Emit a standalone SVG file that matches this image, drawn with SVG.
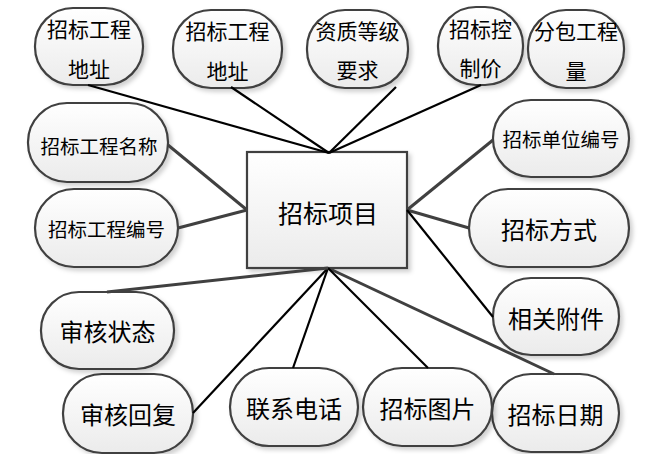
<svg xmlns="http://www.w3.org/2000/svg" width="656" height="454" viewBox="0 0 656 454">
<defs>
<linearGradient id="g" x1="0" y1="0" x2="0" y2="1">
<stop offset="0" stop-color="#ffffff"/>
<stop offset="1" stop-color="#ebebeb"/>
</linearGradient>
<filter id="sh" x="-10%" y="-10%" width="125%" height="130%">
<feDropShadow dx="3" dy="3" stdDeviation="2" flood-color="#000" flood-opacity="0.18"/>
</filter>
</defs>
<style>
.n{fill:url(#g);stroke:#404040;stroke-width:2.2;filter:url(#sh)}
.t{font-family:"Noto Sans CJK SC","Noto Sans CJK JP",sans-serif;fill:#000;text-anchor:middle;dominant-baseline:central}
.s20{font-size:21px}
.s19{font-size:19.5px}
.s23{font-size:24px}
.k{stroke:#000;stroke-width:2.2;fill:none}
.gy{stroke:#404040;stroke-width:3;fill:none}
</style>
<rect width="656" height="454" fill="#fff"/>
<g id="center">
<rect class="n" x="247" y="152" width="160" height="116" rx="0"/>
<text class="t" x="328" y="212" font-size="25">招标项目</text>
</g>
<g id="n1"><rect class="n" x="35" y="8" width="108" height="77" rx="38"/><text class="t s20" x="89" y="28">招标工程</text><text class="t s20" x="89" y="68">地址</text></g>
<g id="n2"><rect class="n" x="173" y="10" width="109" height="78" rx="38"/><text class="t s20" x="227.5" y="30">招标工程</text><text class="t s20" x="227.5" y="70">地址</text></g>
<g id="n3"><rect class="n" x="307" y="10" width="101" height="78" rx="38"/><text class="t s20" x="357.5" y="30">资质等级</text><text class="t s20" x="357.5" y="69">要求</text></g>
<g id="n4"><rect class="n" x="438" y="7" width="85" height="78" rx="38"/><text class="t s20" x="480.5" y="28">招标控</text><text class="t s20" x="480.5" y="67">制价</text></g>
<g id="n5"><rect class="n" x="528" y="10" width="96" height="78" rx="38"/><text class="t s20" x="576" y="30">分包工程</text><text class="t s20" x="576" y="70">量</text></g>
<g id="n6"><rect class="n" x="28" y="103" width="140" height="79" rx="39"/><text class="t s19" x="99" y="145">招标工程名称</text></g>
<g id="n7"><rect class="n" x="35" y="189" width="143" height="78" rx="39"/><text class="t s19" x="106.5" y="228">招标工程编号</text></g>
<g id="n8"><rect class="n" x="493" y="100" width="136" height="77" rx="38"/><text class="t s19" x="561" y="138">招标单位编号</text></g>
<g id="n9"><rect class="n" x="469" y="189" width="160" height="78" rx="39"/><text class="t s23" x="549" y="228">招标方式</text></g>
<g id="n10"><rect class="n" x="493" y="278" width="126" height="77" rx="38"/><text class="t s23" x="556" y="317">相关附件</text></g>
<g id="n11"><rect class="n" x="492" y="374" width="127" height="78" rx="39"/><text class="t s23" x="555.5" y="413">招标日期</text></g>
<g id="n12"><rect class="n" x="363" y="368" width="129" height="78" rx="39"/><text class="t s23" x="427.5" y="407">招标图片</text></g>
<g id="n13"><rect class="n" x="230" y="368" width="128" height="78" rx="39"/><text class="t s23" x="294" y="407">联系电话</text></g>
<g id="n14"><rect class="n" x="63" y="374" width="130" height="79" rx="39"/><text class="t s23" x="128" y="413">审核回复</text></g>
<g id="n15"><rect class="n" x="41" y="292" width="133" height="77" rx="38"/><text class="t s23" x="107.5" y="330">审核状态</text></g>
<g id="connectors">
<line class="k" x1="88" y1="85" x2="329" y2="153"/>
<line class="k" x1="231" y1="87" x2="329" y2="153"/>
<line class="k" x1="396" y1="87" x2="329" y2="153"/>
<line class="k" x1="481" y1="85" x2="329" y2="153"/>
<line class="gy" x1="168" y1="145" x2="247" y2="210"/>
<line class="gy" x1="178" y1="228" x2="247" y2="210"/>
<line class="gy" x1="493" y1="140" x2="407" y2="210"/>
<line class="gy" x1="469" y1="228" x2="407" y2="210"/>
<line class="k" x1="407" y1="210" x2="493" y2="317"/>
<line class="gy" x1="554" y1="374" x2="328" y2="268"/>
<line class="k" x1="428" y1="368" x2="328" y2="268"/>
<line class="k" x1="293" y1="368" x2="328" y2="268"/>
<line class="k" x1="193" y1="413" x2="328" y2="268"/>
<line class="gy" x1="107" y1="292" x2="328" y2="268"/>
</g>
</svg>
